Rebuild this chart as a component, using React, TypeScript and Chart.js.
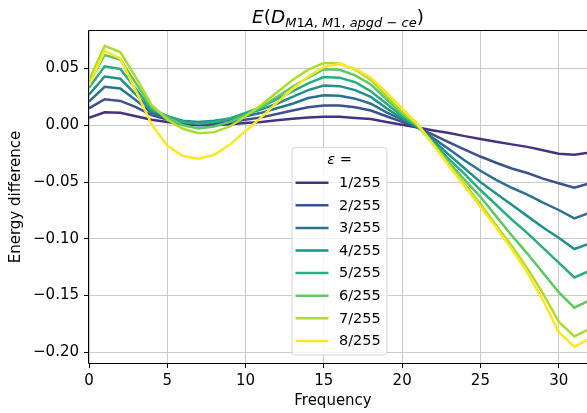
import { useEffect, useRef } from 'react';
import { Chart, registerables } from 'chart.js';

Chart.register(...registerables);

const FREQUENCY = [0, 1, 2, 3, 4, 5, 6, 7, 8, 9, 10, 11, 12, 13, 14, 15, 16, 17, 18, 19, 20, 21, 22, 23, 24, 25, 26, 27, 28, 29, 30, 31, 32];

const EPS_1 = [0.0065, 0.0115, 0.011, 0.008, 0.005, 0.003, 0.001, 0.0, 0.0, 0.001, 0.002, 0.003, 0.0045, 0.0058, 0.0068, 0.0075, 0.0075, 0.0065, 0.0055, 0.003, 0.0005, -0.002, -0.0045, -0.0068, -0.0095, -0.012, -0.0145, -0.0168, -0.019, -0.022, -0.025, -0.026, -0.024];
const EPS_2 = [0.015, 0.023, 0.0215, 0.016, 0.009, 0.005, 0.002, 0.001, 0.001, 0.003, 0.005, 0.007, 0.01, 0.013, 0.016, 0.0175, 0.0175, 0.016, 0.013, 0.008, 0.003, -0.002, -0.0085, -0.015, -0.0215, -0.0275, -0.033, -0.038, -0.042, -0.047, -0.051, -0.055, -0.051];
const EPS_3 = [0.021, 0.034, 0.0325, 0.022, 0.011, 0.007, 0.003, 0.0025, 0.003, 0.005, 0.008, 0.011, 0.015, 0.019, 0.024, 0.0265, 0.026, 0.0235, 0.019, 0.0115, 0.005, -0.002, -0.0115, -0.021, -0.031, -0.04, -0.048, -0.055, -0.061, -0.068, -0.0746, -0.082, -0.077];
const EPS_4 = [0.027, 0.043, 0.041, 0.027, 0.013, 0.008, 0.004, 0.003, 0.004, 0.006, 0.01, 0.014, 0.019, 0.025, 0.031, 0.035, 0.0345, 0.031, 0.025, 0.015, 0.006, -0.0015, -0.0135, -0.026, -0.038, -0.05, -0.06, -0.07, -0.08, -0.09, -0.099, -0.109, -0.104];
const EPS_5 = [0.033, 0.052, 0.0496, 0.032, 0.014, 0.008, 0.003, 0.0015, 0.003, 0.006, 0.011, 0.016, 0.023, 0.03, 0.037, 0.0425, 0.042, 0.038, 0.03, 0.019, 0.008, -0.001, -0.015, -0.03, -0.043, -0.057, -0.07, -0.083, -0.095, -0.108, -0.121, -0.134, -0.128];
const EPS_6 = [0.037, 0.062, 0.058, 0.037, 0.016, 0.007, 0.0, -0.0027, -0.001, 0.003, 0.009, 0.016, 0.025, 0.034, 0.042, 0.0495, 0.049, 0.044, 0.036, 0.023, 0.01, -0.0005, -0.0165, -0.033, -0.048, -0.063, -0.08, -0.097, -0.113, -0.13, -0.147, -0.1607, -0.154];
const EPS_7 = [0.04, 0.07, 0.0646, 0.042, 0.018, 0.005, -0.003, -0.007, -0.006, -0.001, 0.008, 0.018, 0.029, 0.04, 0.049, 0.055, 0.0545, 0.049, 0.04, 0.026, 0.012, 0.0, -0.017, -0.035, -0.052, -0.069, -0.088, -0.106, -0.126, -0.148, -0.173, -0.186, -0.179];
const EPS_8 = [0.035, 0.0655, 0.059, 0.03, 0.001, -0.018, -0.027, -0.0295, -0.026, -0.017, -0.005, 0.007, 0.02, 0.032, 0.043, 0.0515, 0.054, 0.05, 0.042, 0.029, 0.015, 0.001, -0.0175, -0.036, -0.054, -0.072, -0.09, -0.109, -0.13, -0.154, -0.182, -0.195, -0.188];

const SERIES = [EPS_1, EPS_2, EPS_3, EPS_4, EPS_5, EPS_6, EPS_7, EPS_8];
const EPS_LABELS = ['1/255', '2/255', '3/255', '4/255', '5/255', '6/255', '7/255', '8/255'];
const COLORS = ['#46327e', '#3b528b', '#2c728e', '#21918c', '#28ae80', '#5ec962', '#addc30', '#fde725'];

const X_TICKS = [0, 5, 10, 15, 20, 25, 30];
const Y_TICKS = [0.05, 0, -0.05, -0.1, -0.15, -0.2];

const X_LABEL = 'Frequency';
const Y_LABEL = 'Energy difference';
const LEGEND_TITLE = 'ε';

const FONT = "'DejaVu Sans', sans-serif";

type Seg = { t: string; i?: boolean; s?: boolean };
const TITLE_SEGS: Seg[] = [
  { t: 'E', i: true },
  { t: '(' },
  { t: 'D', i: true },
  { t: 'M', i: true, s: true },
  { t: '1', s: true },
  { t: 'A', i: true, s: true },
  { t: ', ', s: true },
  { t: 'M', i: true, s: true },
  { t: '1', s: true },
  { t: ', ', s: true },
  { t: 'apgd', i: true, s: true },
  { t: ' − ', s: true },
  { t: 'ce', i: true, s: true },
  { t: ')' },
];

const decorPlugin = {
  id: 'decor',
  afterDatasetsDraw(chart: any) {
    const { ctx, chartArea: a } = chart;
    ctx.save();
    ctx.strokeStyle = '#000';
    ctx.lineWidth = 1;
    const l = Math.round(a.left) - 0.5;
    const t = Math.round(a.top) - 0.5;
    const b = Math.round(a.bottom) + 0.5;
    const r = Math.round(a.right) + 0.5;
    ctx.beginPath();
    ctx.moveTo(l, b);
    ctx.lineTo(l, t);
    ctx.lineTo(r, t);
    ctx.lineTo(r, b);
    ctx.lineTo(l, b);
    ctx.stroke();
    ctx.restore();
  },
  afterDraw(chart: any) {
    const { ctx, chartArea: a } = chart;
    ctx.save();
    ctx.fillStyle = '#000';

    // Title
    const big = 18.5;
    const small = 13;
    const fontFor = (sg: Seg) => `${sg.i ? 'italic ' : ''}${sg.s ? small : big}px ${FONT}`;
    let total = 0;
    const widths = TITLE_SEGS.map((sg) => {
      ctx.font = fontFor(sg);
      const w = ctx.measureText(sg.t).width;
      total += w;
      return w;
    });
    const cx = 338;
    let x = cx - total / 2;
    const baseY = 22.5;
    ctx.textBaseline = 'alphabetic';
    ctx.textAlign = 'left';
    TITLE_SEGS.forEach((sg, k) => {
      ctx.font = fontFor(sg);
      ctx.fillText(sg.t, x, sg.s ? baseY + 4.5 : baseY);
      x += widths[k];
    });

    // Axis labels
    ctx.font = `15px ${FONT}`;
    ctx.textAlign = 'center';
    ctx.textBaseline = 'middle';
    ctx.fillText(X_LABEL, (a.left + 587) / 2 - 5, 401);
    ctx.save();
    ctx.translate(16.5, (a.top + a.bottom) / 2);
    ctx.rotate(-Math.PI / 2);
    ctx.fillText(Y_LABEL, 0, 0);
    ctx.restore();

    // Legend
    const lx = 292, ly = 147.5, lw = 95, lh = 207.5;
    ctx.beginPath();
    ctx.roundRect(lx, ly, lw, lh, 3);
    ctx.fillStyle = 'rgba(255,255,255,0.8)';
    ctx.fill();
    ctx.strokeStyle = '#d5d5d5';
    ctx.lineWidth = 1;
    ctx.stroke();

    ctx.fillStyle = '#000';
    ctx.textBaseline = 'middle';
    ctx.font = `italic 14.5px ${FONT}`;
    const tw1 = ctx.measureText(LEGEND_TITLE).width;
    ctx.font = `14.5px ${FONT}`;
    const tw2 = ctx.measureText(' =').width;
    const tx = lx + lw / 2 - (tw1 + tw2) / 2;
    ctx.textAlign = 'left';
    ctx.font = `italic 14.5px ${FONT}`;
    ctx.fillText(LEGEND_TITLE, tx, 160);
    ctx.font = `14.5px ${FONT}`;
    ctx.fillText(' =', tx + tw1, 160);

    chart.data.datasets.forEach((ds: any, k: number) => {
      const ry = 182.7 + k * 22.6;
      ctx.strokeStyle = ds.borderColor;
      ctx.lineWidth = 2.5;
      ctx.beginPath();
      ctx.moveTo(295.5, ry);
      ctx.lineTo(328.5, ry);
      ctx.stroke();
      ctx.fillStyle = '#000';
      ctx.fillText(ds.label, 339, ry + 0.5);
    });

    ctx.restore();
  },
};

const fmtY = (v: number) => {
  const s = Math.abs(v).toFixed(2);
  return v < -1e-9 ? '\u2212' + s : s;
};

export default function App() {
  const ref = useRef<HTMLCanvasElement | null>(null);
  useEffect(() => {
    if (!ref.current) return;
    const datasets = SERIES.map((arr, k) => ({
      label: EPS_LABELS[k],
      data: FREQUENCY.map((f, i) => ({ x: f, y: arr[i] })),
      borderColor: COLORS[k],
      backgroundColor: COLORS[k],
      borderWidth: 2.5,
      pointRadius: 0,
      tension: 0,
      fill: false,
      order: SERIES.length - k,
    }));
    const chart = new Chart(ref.current, {
      type: 'line',
      data: { datasets },
      options: {
        animation: false,
        responsive: false,
        devicePixelRatio: 1,
        layout: { padding: { top: 31, right: 2, left: 0, bottom: 0 } },
        plugins: {
          legend: { display: false },
          title: { display: false },
          tooltip: { enabled: false },
        },
        scales: {
          x: {
            type: 'linear',
            min: 0,
            max: 32,
            afterBuildTicks: (s: any) => {
              s.ticks = X_TICKS.map((v) => ({ value: v }));
            },
            afterFit: (s: any) => {
              s.height = 50;
            },
            grid: { color: '#cbcbcb', lineWidth: 1, tickLength: 5, tickColor: '#000', tickWidth: 1 },
            border: { display: false },
            ticks: {
              font: { family: FONT, size: 15 },
              color: '#000',
              padding: 4,
              maxRotation: 0,
              autoSkip: false,
              callback: (v: any) => String(v),
            },
          },
          y: {
            type: 'linear',
            min: -0.2094,
            max: 0.0831,
            afterBuildTicks: (s: any) => {
              s.ticks = Y_TICKS.map((v) => ({ value: v }));
            },
            afterFit: (s: any) => {
              s.width = 89;
            },
            grid: { color: '#cbcbcb', lineWidth: 1, tickLength: 5, tickColor: '#000', tickWidth: 1 },
            border: { display: false },
            ticks: {
              font: { family: FONT, size: 15 },
              color: '#000',
              padding: 5,
              autoSkip: false,
              callback: (v: any) => fmtY(Number(v)),
            },
          },
        },
      } as any,
      plugins: [decorPlugin],
    });
    return () => chart.destroy();
  }, []);

  return (
    <div style={{ position: 'fixed', left: 0, top: 0, width: 587, height: 413, overflow: 'hidden', background: '#fff' }}>
      <canvas ref={ref} width={592} height={413} style={{ display: 'block', width: 592, height: 413 }} />
    </div>
  );
}
